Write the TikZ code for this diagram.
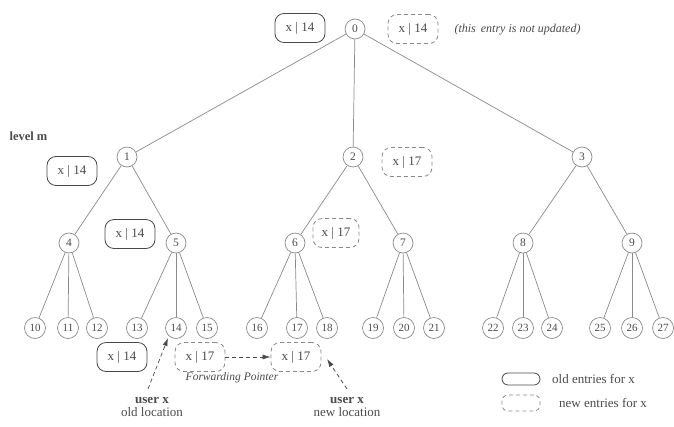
\documentclass[tikz,border=0pt]{standalone}
\usepackage{fontspec}
\setmainfont{Liberation Serif}
\usetikzlibrary{arrows.meta}
\definecolor{ln}{HTML}{8A8A8A}
\definecolor{tx}{HTML}{4A4A4A}
\begin{document}
\begin{tikzpicture}[x=1pt,y=-1pt,
  nd/.style={circle,draw=ln,line width=0.7pt,minimum size=20pt,inner sep=0pt,text=tx,font=\fontsize{11.5}{13}\selectfont},
  lf/.style={nd,minimum size=21pt,font=\fontsize{11}{12}\selectfont},
  oldbox/.style={draw=tx,line width=0.8pt,rounded corners=9pt,minimum width=50pt,minimum height=29pt,inner sep=0pt,text=tx,font=\fontsize{13}{15}\selectfont},
  newbox/.style={oldbox,draw=ln,dashed,dash pattern=on 4pt off 3pt},
  edge/.style={ln,line width=0.7pt},
  ptr/.style={tx,line width=0.7pt,dash pattern=on 4pt off 3pt,-{Latex[length=8pt,width=5pt]}}]
\useasboundingbox (0,0) rectangle (674,426);
% nodes
\node[nd] (n0) at (355,29) {0};
\node[nd] (n1) at (127,157) {1};
\node[nd] (n2) at (353,157) {2};
\node[nd] (n3) at (582,157) {3};
\node[nd] (n4) at (69,243) {4};
\node[nd] (n5) at (176,243) {5};
\node[nd] (n6) at (295,243) {6};
\node[nd] (n7) at (403,243) {7};
\node[nd] (n8) at (523,243) {8};
\node[nd] (n9) at (632,243) {9};
\foreach \n/\x in {10/35,11/68,12/97,13/137,14/176,15/207,16/257,17/297,18/327,19/373,20/404,21/434,22/493,23/523,24/552,25/600,26/632,27/663}
  \node[lf] (n\n) at (\x,328) {\n};
% edges
\foreach \a/\b in {0/1,0/2,0/3,1/4,1/5,2/6,2/7,3/8,3/9,
  4/10,4/11,4/12,5/13,5/14,5/15,6/16,6/17,6/18,7/19,7/20,7/21,8/22,8/23,8/24,9/25,9/26,9/27}
  \draw[edge] (n\a) -- (n\b);
% entries
\node[oldbox] (b0) at (300,28) {x | 14};
\node[newbox] (c0) at (413,29) {x | 14};
\node[anchor=west,text=tx,font=\fontsize{12}{13}\itshape] (note) at (451,30) {(this\, entry is not updated)};
\node[anchor=west,text=tx,font=\fontsize{12.5}{14}\bfseries] (lvl) at (6,136) {level m};
\node[oldbox] (b1) at (72,171) {x | 14};
\node[newbox] (c2) at (407,162) {x | 17};
\node[oldbox] (b5) at (130,234) {x | 14};
\node[newbox,minimum width=46pt] (c6) at (336,233) {x | 17};
\node[oldbox] (b14) at (122,357) {x | 14};
\node[newbox] (c14) at (200,357) {x | 17};
\node[newbox] (c18) at (296,357) {x | 17};
\draw[ptr] (c14) -- (c18);
\node[text=tx,font=\fontsize{11.5}{13}\itshape] (fp) at (232,378) {Forwarding Pointer};
% users
\node[align=center,text=tx,font=\fontsize{13}{13.5}\selectfont,inner sep=0pt] (uo) at (152,407) {\textbf{user x}\\old location};
\node[align=center,text=tx,font=\fontsize{13}{13.5}\selectfont,inner sep=0pt] (un) at (347,407) {\textbf{user x}\\new location};
\coordinate (uo1) at (148,389);
\coordinate (uo2) at (168,338);
\coordinate (un1) at (347,389);
\coordinate (un2) at (327,359);
\draw[ptr] (uo1) -- (uo2);
\draw[ptr] (un1) -- (un2);
% legend
\node[oldbox,minimum width=38pt,minimum height=12pt,rounded corners=6pt] (lo) at (521,379) {};
\node[newbox,minimum width=38pt,minimum height=16pt,rounded corners=6pt] (ln) at (521,403) {};
\node[anchor=west,text=tx,font=\fontsize{13}{14}\selectfont,inner sep=0pt] (lot) at (552,379) {old entries for x};
\node[anchor=west,text=tx,font=\fontsize{13}{14}\selectfont,inner sep=0pt] (lnt) at (559,403) {new entries for x};
\end{tikzpicture}
\end{document}
